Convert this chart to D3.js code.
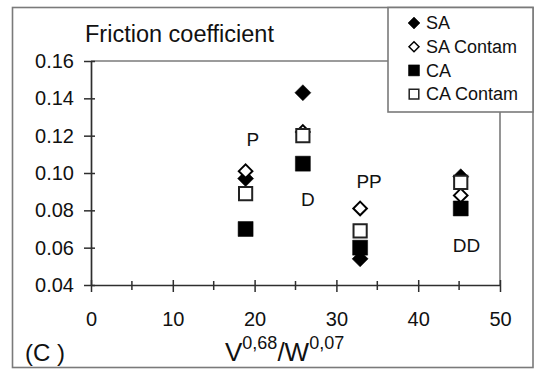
<!DOCTYPE html>
<html>
<head>
<meta charset="utf-8">
<script src="https://cdn.jsdelivr.net/npm/d3@7"></script>
<style>
  html, body { margin: 0; padding: 0; background: #fff; }
  svg { display: block; font-family: "Liberation Sans", Arial, sans-serif; }
</style>
</head>
<body>
<svg id="chart" width="536" height="370"></svg>
<script>
// x positions of the four test conditions, V^0.68/W^0.07
const xValues = [18.9, 25.9, 32.9, 45.2];

// friction coefficient for each series at those positions
const saValues       = [0.097, 0.143, 0.054, 0.098];
const saContamValues = [0.101, 0.122, 0.081, 0.088];
const caValues       = [0.070, 0.105, 0.060, 0.081];
const caContamValues = [0.089, 0.120, 0.069, 0.095];

// regime labels placed beside the columns
const regimeLabels = ["P", "D", "PP", "DD"];
const regimeX      = [19.8, 26.5, 34.0, 45.9];
const regimeY      = [0.118, 0.086, 0.0955, 0.0615];

const seriesNames = ["SA", "SA Contam", "CA", "CA Contam"];
const xTicks = [0, 10, 20, 30, 40, 50];
const xMinorTicks = [5, 15, 25, 35, 45];
const yTicks = [0.04, 0.06, 0.08, 0.10, 0.12, 0.14, 0.16];

const svg = d3.select("#chart");
const plot = { left: 91, right: 500, top: 61, bottom: 285 };

const x = d3.scaleLinear().domain([0, 50]).range([plot.left, plot.right]);
const y = d3.scaleLinear().domain([0.04, 0.16]).range([plot.bottom, plot.top]);

const lineCol = "#2e2e2e";
const frameCol = "#7a7a7a";

// outer frame
svg.append("rect")
  .attr("x", 12.5).attr("y", 7.5).attr("width", 520.5).attr("height", 360)
  .attr("fill", "#fff").attr("stroke", frameCol).attr("stroke-width", 1.6);

// legend box geometry (plot frame lines stop at it)
const legend = { x0: 388, y0: 7.5, x1: 533, y1: 112 };

// plot frame: top and right sides
svg.append("line")
  .attr("x1", plot.left).attr("x2", legend.x0)
  .attr("y1", plot.top).attr("y2", plot.top)
  .attr("stroke", frameCol).attr("stroke-width", 1.6);
svg.append("line")
  .attr("x1", plot.right).attr("x2", plot.right)
  .attr("y1", legend.y1).attr("y2", plot.bottom)
  .attr("stroke", frameCol).attr("stroke-width", 1.6);

// y axis
const yAxis = d3.axisLeft(y).tickValues(yTicks)
  .tickFormat(d3.format(".2f")).tickSizeInner(7).tickSizeOuter(0).tickPadding(10);
const gy = svg.append("g").attr("transform", `translate(${plot.left},0)`).call(yAxis);
gy.select(".domain").attr("stroke", lineCol).attr("stroke-width", 1.7);
gy.selectAll(".tick line").attr("stroke", lineCol).attr("stroke-width", 1.5)
  .attr("x1", 4);
gy.selectAll(".tick text").attr("font-size", 20).attr("fill", "#111")
  .attr("font-family", "Liberation Sans, Arial, sans-serif");

// x axis, major ticks with labels and minor ticks between
const xAxis = d3.axisBottom(x).tickValues(xTicks)
  .tickFormat(d3.format("d")).tickSizeInner(7).tickSizeOuter(0).tickPadding(20);
const gx = svg.append("g").attr("transform", `translate(0,${plot.bottom})`).call(xAxis);
gx.select(".domain").attr("stroke", lineCol).attr("stroke-width", 1.7);
gx.selectAll(".tick line").attr("stroke", lineCol).attr("stroke-width", 1.5)
  .attr("y1", -5);
gx.selectAll(".tick text").attr("font-size", 20).attr("fill", "#111")
  .attr("font-family", "Liberation Sans, Arial, sans-serif");
svg.append("g").selectAll("line").data(xMinorTicks).join("line")
  .attr("x1", d => x(d)).attr("x2", d => x(d))
  .attr("y1", plot.bottom - 4).attr("y2", plot.bottom + 5)
  .attr("stroke", lineCol).attr("stroke-width", 1.5);

// titles
svg.append("text").attr("x", 85).attr("y", 42)
  .attr("font-size", 23.5).attr("fill", "#111").text("Friction coefficient");

const xt = svg.append("text").attr("x", 225).attr("y", 361)
  .attr("font-size", 26).attr("fill", "#111");
xt.append("tspan").text("V");
xt.append("tspan").attr("font-size", 18).attr("dy", -12).text("0,68");
xt.append("tspan").attr("dy", 12).text("/W");
xt.append("tspan").attr("font-size", 18).attr("dy", -12).text("0,07");

svg.append("text").attr("x", 25).attr("y", 361)
  .attr("font-size", 24).attr("fill", "#111").text("(C )");

// marker shapes
function diamond(h) {
  return `M0,${-h}L${h},0L0,${h}L${-h},0Z`;
}
function square(s) {
  return `M${-s},${-s}H${s}V${s}H${-s}Z`;
}
const styles = {
  "SA":        { path: diamond(8),   fill: "#000", stroke: "#000", sw: 0.5, lpath: diamond(6) },
  "SA Contam": { path: diamond(6.8), fill: "#fff", stroke: "#000", sw: 2,   lpath: diamond(5) },
  "CA":        { path: square(7.5),  fill: "#000", stroke: "#000", sw: 0.5, lpath: square(5.5) },
  "CA Contam": { path: square(6.6),  fill: "#fff", stroke: "#222", sw: 2,   lpath: square(4.8) }
};
const seriesData = {
  "SA": saValues, "SA Contam": saContamValues, "CA": caValues, "CA Contam": caContamValues
};

// drawing order: filled marks first, open marks on top
["SA", "CA", "SA Contam", "CA Contam"].forEach(name => {
  const st = styles[name];
  svg.append("g").selectAll("path")
    .data(seriesData[name].map((v, i) => [xValues[i], v]))
    .join("path")
    .attr("d", st.path)
    .attr("transform", d => `translate(${x(d[0])},${y(d[1])})`)
    .attr("fill", st.fill).attr("stroke", st.stroke).attr("stroke-width", st.sw);
});

// regime labels
svg.append("g").selectAll("text")
  .data(regimeLabels.map((t, i) => ({ t, x: regimeX[i], y: regimeY[i] })))
  .join("text")
  .attr("x", d => x(d.x)).attr("y", d => y(d.y))
  .attr("dy", "0.35em").attr("text-anchor", "middle")
  .attr("font-size", 19).attr("fill", "#111")
  .text(d => d.t);

// legend
svg.append("rect")
  .attr("x", legend.x0).attr("y", legend.y0)
  .attr("width", legend.x1 - legend.x0).attr("height", legend.y1 - legend.y0)
  .attr("fill", "#fff").attr("stroke", frameCol).attr("stroke-width", 1.6);
const lg = svg.append("g").selectAll("g").data(seriesNames).join("g")
  .attr("transform", (d, i) => `translate(414,${23 + i * 23.7})`);
lg.append("path")
  .attr("d", d => styles[d].lpath)
  .attr("fill", d => styles[d].fill).attr("stroke", d => styles[d].stroke)
  .attr("stroke-width", d => styles[d].sw === 2 ? 1.5 : 0.5);
lg.append("text").attr("x", 12).attr("dy", "0.35em")
  .attr("font-size", 18).attr("fill", "#111").text(d => d);
</script>
</body>
</html>
